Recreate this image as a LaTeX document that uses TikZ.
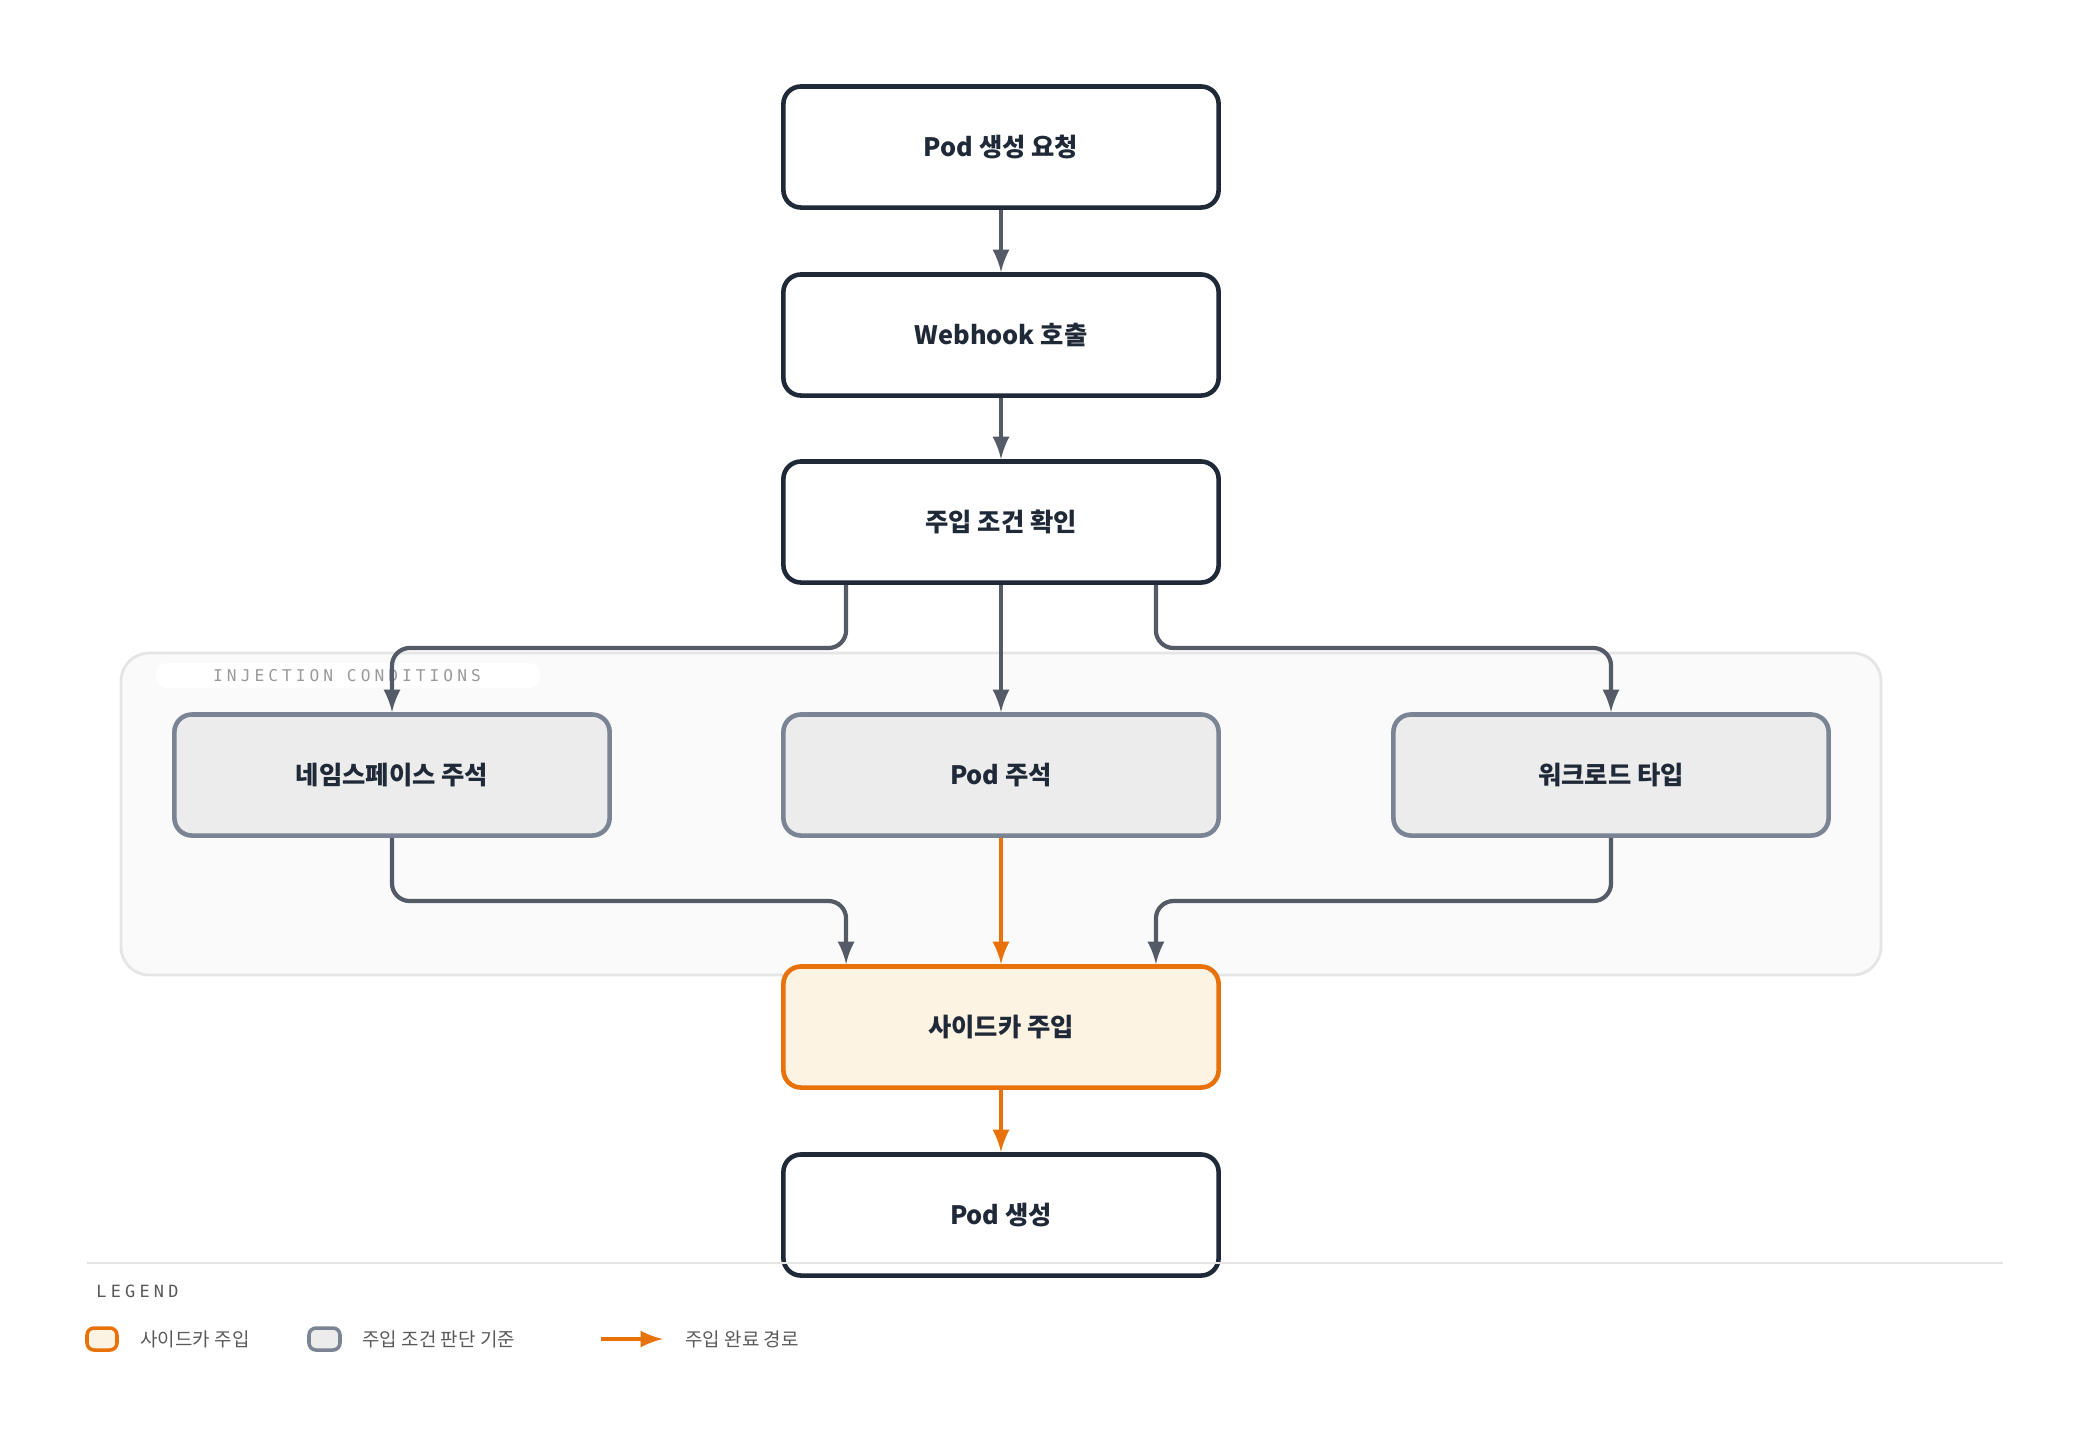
\documentclass[tikz,border=0pt]{standalone}
\usepackage{fontspec}
\usepackage{tikz}
\setmainfont{Noto Sans CJK KR}
\newfontfamily\monof[LetterSpace=25]{DejaVu Sans Mono}
\definecolor{ink}{HTML}{1F2937}
\definecolor{wire}{HTML}{555B66}
\definecolor{orng}{HTML}{E8710A}
\definecolor{cream}{HTML}{FDF3E3}
\definecolor{condfill}{HTML}{ECECEC}
\definecolor{condline}{HTML}{7A8494}
\tikzset{
box/.style={draw=ink,line width=1.3pt,rounded corners=5pt,fill=white,minimum width=4.35cm,minimum height=1.21cm,font=\fontsize{7.2}{8}\selectfont\bfseries,text=ink},
cond/.style={box,draw=condline,fill=condfill},
side/.style={box,draw=orng,fill=cream},
flow/.style={draw=wire,line width=1.2pt,rounded corners=5pt,-latex},
hot/.style={draw=orng,line width=1.2pt,-latex}
}
\begin{document}
\begin{tikzpicture}[x=0.01cm,y=-0.01cm]
\useasboundingbox (0,0) rectangle (2080,1430);
\draw[fill=black!2,draw=black!10,line width=0.8pt,rounded corners=8pt] (121,653) rectangle (1881,975);
\fill[white,rounded corners=3pt] (156,663) rectangle (540,688);
\node[font=\monof\fontsize{4.6}{5}\selectfont,text=black!40] (grp) at (347,676) {INJECTION CONDITIONS};
\node[box] (req) at (1001,147) {Pod 생성 요청};
\node[box] (hook) at (1001,335) {Webhook 호출};
\node[box] (chk) at (1001,522) {주입 조건 확인};
\node[cond] (ns) at (392,775) {네임스페이스 주석};
\node[cond] (pa) at (1001,775) {Pod 주석};
\node[cond] (wl) at (1611,775) {워크로드 타입};
\node[side] (inj) at (1001,1027) {사이드카 주입};
\node[box] (pod) at (1001,1215) {Pod 생성};
\draw[flow] (req) -- (hook);
\draw[flow] (hook) -- (chk);
\draw[flow] (chk.south west) ++(65,0) coordinate (c1) -- (c1|-0,648) -- (ns.north|-0,648) -- (ns.north);
\draw[flow] (chk) -- (pa);
\draw[flow] (chk.south east) ++(-65,0) coordinate (c2) -- (c2|-0,648) -- (wl.north|-0,648) -- (wl.north);
\draw[flow] (ns) -- (ns|-0,901) -- (c1|-0,901) -- (c1|-inj.north);
\draw[flow] (wl) -- (wl|-0,901) -- (c2|-0,901) -- (c2|-inj.north);
\draw[hot] (pa) -- (inj);
\draw[hot] (inj) -- (pod);
% legend
\draw[black!10,line width=0.8pt] (87,1263) -- (2003,1263);
\node[anchor=west,font=\monof\fontsize{4.8}{5}\selectfont,text=black!65] (lg) at (84,1291) {LEGEND};
\draw[orng,fill=cream,line width=1pt,rounded corners=2pt] (87,1328) rectangle (117,1350);
\node[anchor=west,font=\fontsize{5.4}{6}\selectfont,text=black!65] (l1) at (128,1339) {사이드카 주입};
\draw[condline,fill=condfill,line width=1pt,rounded corners=2pt] (309,1328) rectangle (340,1350);
\node[anchor=west,font=\fontsize{5.4}{6}\selectfont,text=black!65] (l2) at (350,1339) {주입 조건 판단 기준};
\coordinate (a0) at (601,1339);
\coordinate (a1) at (663,1339);
\draw[hot] (a0) -- (a1);
\node[anchor=west,font=\fontsize{5.4}{6}\selectfont,text=black!65] (l3) at (673,1339) {주입 완료 경로};
\end{tikzpicture}
\end{document}
